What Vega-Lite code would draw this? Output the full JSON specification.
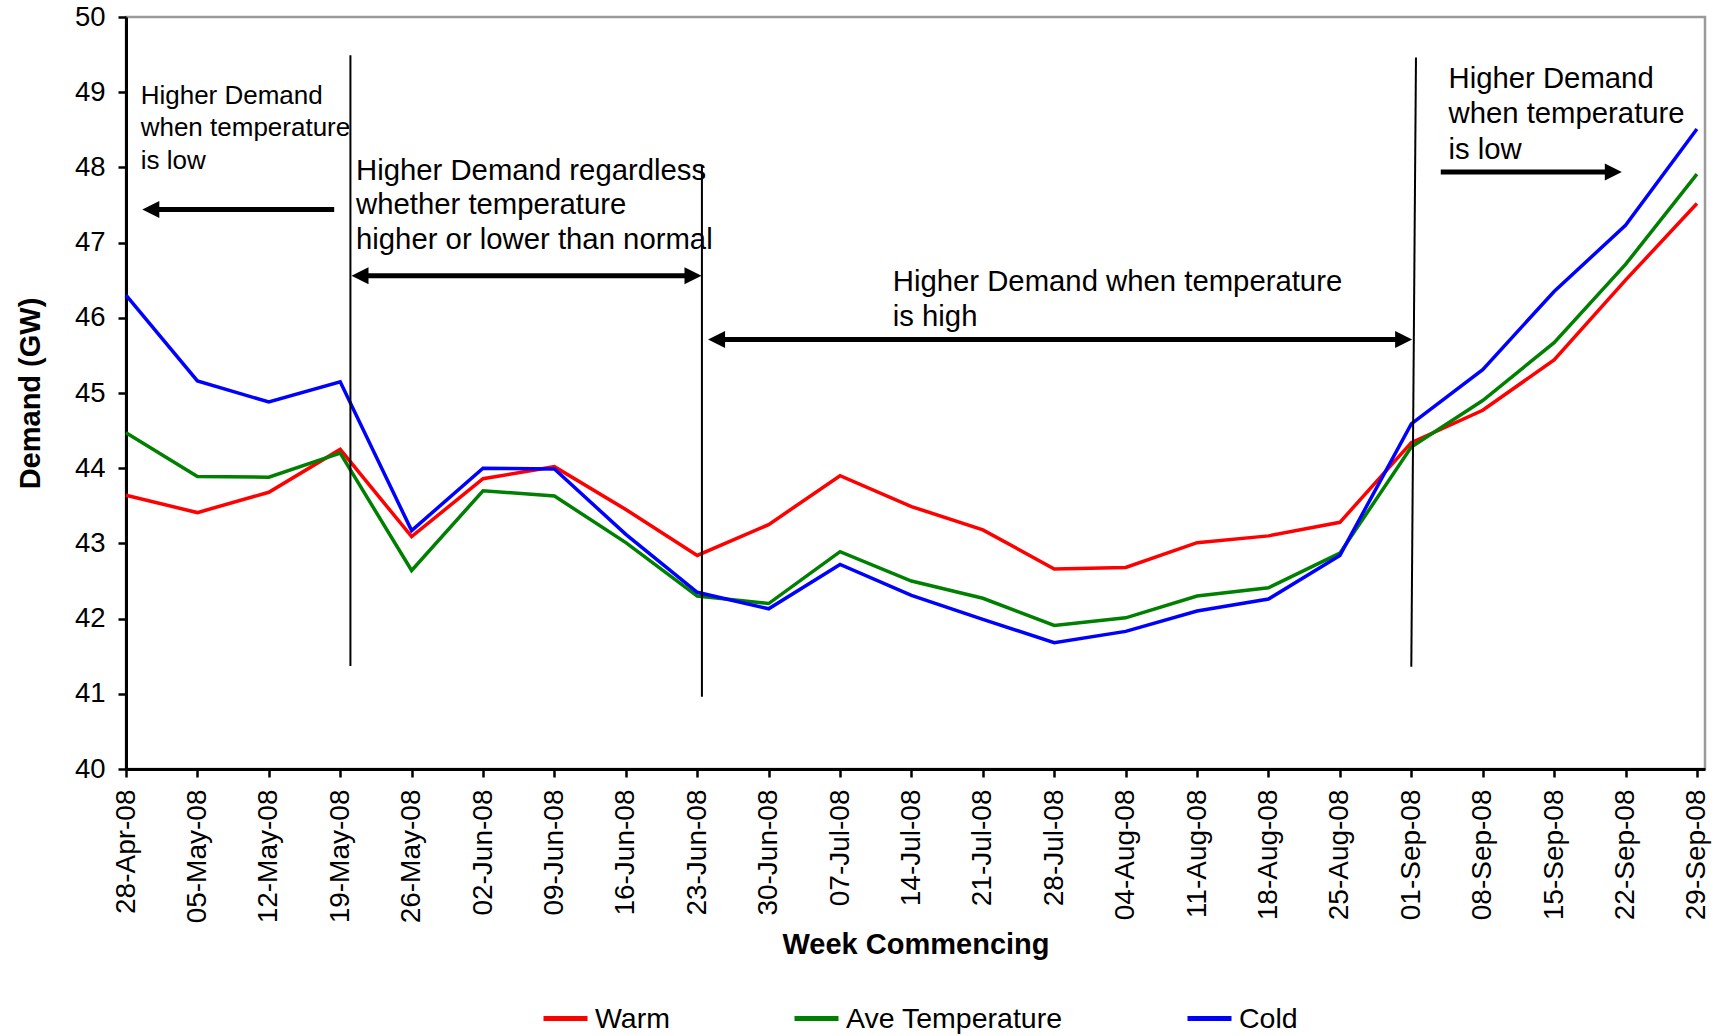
{
  "$schema": "https://vega.github.io/schema/vega-lite/v6.json",
  "width": 1579,
  "height": 752,
  "autosize": {"type": "none"},
  "padding": {"left": 126, "top": 17, "right": 20, "bottom": 267},
  "background": "white",
  "config": {
    "font": "Liberation Sans, Arial, sans-serif",
    "view": {"stroke": "#9a9a9a", "strokeWidth": 2.5}
  },
  "datasets": {
    "demand": [
      {"week": "2008-04-28", "series": "Warm", "demand": 43.64},
      {"week": "2008-05-05", "series": "Warm", "demand": 43.41},
      {"week": "2008-05-12", "series": "Warm", "demand": 43.68},
      {"week": "2008-05-19", "series": "Warm", "demand": 44.25},
      {"week": "2008-05-26", "series": "Warm", "demand": 43.09},
      {"week": "2008-06-02", "series": "Warm", "demand": 43.86},
      {"week": "2008-06-09", "series": "Warm", "demand": 44.02},
      {"week": "2008-06-16", "series": "Warm", "demand": 43.45},
      {"week": "2008-06-23", "series": "Warm", "demand": 42.84},
      {"week": "2008-06-30", "series": "Warm", "demand": 43.25},
      {"week": "2008-07-07", "series": "Warm", "demand": 43.90},
      {"week": "2008-07-14", "series": "Warm", "demand": 43.49},
      {"week": "2008-07-21", "series": "Warm", "demand": 43.18},
      {"week": "2008-07-28", "series": "Warm", "demand": 42.66},
      {"week": "2008-08-04", "series": "Warm", "demand": 42.68},
      {"week": "2008-08-11", "series": "Warm", "demand": 43.01},
      {"week": "2008-08-18", "series": "Warm", "demand": 43.10},
      {"week": "2008-08-25", "series": "Warm", "demand": 43.28},
      {"week": "2008-09-01", "series": "Warm", "demand": 44.34},
      {"week": "2008-09-08", "series": "Warm", "demand": 44.77},
      {"week": "2008-09-15", "series": "Warm", "demand": 45.44},
      {"week": "2008-09-22", "series": "Warm", "demand": 46.50},
      {"week": "2008-09-29", "series": "Warm", "demand": 47.52},
      {"week": "2008-04-28", "series": "Ave Temperature", "demand": 44.47},
      {"week": "2008-05-05", "series": "Ave Temperature", "demand": 43.89},
      {"week": "2008-05-12", "series": "Ave Temperature", "demand": 43.88},
      {"week": "2008-05-19", "series": "Ave Temperature", "demand": 44.20},
      {"week": "2008-05-26", "series": "Ave Temperature", "demand": 42.64},
      {"week": "2008-06-02", "series": "Ave Temperature", "demand": 43.70},
      {"week": "2008-06-09", "series": "Ave Temperature", "demand": 43.63},
      {"week": "2008-06-16", "series": "Ave Temperature", "demand": 43.01},
      {"week": "2008-06-23", "series": "Ave Temperature", "demand": 42.30},
      {"week": "2008-06-30", "series": "Ave Temperature", "demand": 42.20},
      {"week": "2008-07-07", "series": "Ave Temperature", "demand": 42.89},
      {"week": "2008-07-14", "series": "Ave Temperature", "demand": 42.50},
      {"week": "2008-07-21", "series": "Ave Temperature", "demand": 42.27},
      {"week": "2008-07-28", "series": "Ave Temperature", "demand": 41.91},
      {"week": "2008-08-04", "series": "Ave Temperature", "demand": 42.01},
      {"week": "2008-08-11", "series": "Ave Temperature", "demand": 42.30},
      {"week": "2008-08-18", "series": "Ave Temperature", "demand": 42.41},
      {"week": "2008-08-25", "series": "Ave Temperature", "demand": 42.87},
      {"week": "2008-09-01", "series": "Ave Temperature", "demand": 44.28},
      {"week": "2008-09-08", "series": "Ave Temperature", "demand": 44.90},
      {"week": "2008-09-15", "series": "Ave Temperature", "demand": 45.67},
      {"week": "2008-09-22", "series": "Ave Temperature", "demand": 46.71},
      {"week": "2008-09-29", "series": "Ave Temperature", "demand": 47.91},
      {"week": "2008-04-28", "series": "Cold", "demand": 46.30},
      {"week": "2008-05-05", "series": "Cold", "demand": 45.16},
      {"week": "2008-05-12", "series": "Cold", "demand": 44.88},
      {"week": "2008-05-19", "series": "Cold", "demand": 45.15},
      {"week": "2008-05-26", "series": "Cold", "demand": 43.17},
      {"week": "2008-06-02", "series": "Cold", "demand": 44.00},
      {"week": "2008-06-09", "series": "Cold", "demand": 43.99},
      {"week": "2008-06-16", "series": "Cold", "demand": 43.12},
      {"week": "2008-06-23", "series": "Cold", "demand": 42.35},
      {"week": "2008-06-30", "series": "Cold", "demand": 42.13},
      {"week": "2008-07-07", "series": "Cold", "demand": 42.72},
      {"week": "2008-07-14", "series": "Cold", "demand": 42.31},
      {"week": "2008-07-21", "series": "Cold", "demand": 41.99},
      {"week": "2008-07-28", "series": "Cold", "demand": 41.68},
      {"week": "2008-08-04", "series": "Cold", "demand": 41.83},
      {"week": "2008-08-11", "series": "Cold", "demand": 42.10},
      {"week": "2008-08-18", "series": "Cold", "demand": 42.26},
      {"week": "2008-08-25", "series": "Cold", "demand": 42.84},
      {"week": "2008-09-01", "series": "Cold", "demand": 44.59},
      {"week": "2008-09-08", "series": "Cold", "demand": 45.31},
      {"week": "2008-09-15", "series": "Cold", "demand": 46.35},
      {"week": "2008-09-22", "series": "Cold", "demand": 47.23},
      {"week": "2008-09-29", "series": "Cold", "demand": 48.51}
    ],
    "dividers": [
      {"x": "2008-05-20T00:00:00Z", "x2": "2008-05-20T00:00:00Z", "y": 49.49, "y2": 41.37},
      {"x": "2008-06-23T11:00:00Z", "x2": "2008-06-23T11:00:00Z", "y": 48.03, "y2": 40.96},
      {"x": "2008-09-01T11:00:00Z", "x2": "2008-09-01T00:00:00Z", "y": 49.46, "y2": 41.36}
    ],
    "shafts": [
      {"x": "2008-04-30T14:00:00Z", "x2": "2008-05-18T09:50:00Z", "y": 47.44},
      {"x": "2008-05-21T02:30:00Z", "x2": "2008-06-22T10:00:00Z", "y": 46.56},
      {"x": "2008-06-25T01:30:00Z", "x2": "2008-08-31T02:00:00Z", "y": 45.71},
      {"x": "2008-09-03T21:20:00Z", "x2": "2008-09-20T15:00:00Z", "y": 47.94}
    ],
    "heads": [
      {"x": "2008-04-29T14:20:00Z", "y": 47.44, "dir": "left"},
      {"x": "2008-05-20T02:30:00Z", "y": 46.56, "dir": "left"},
      {"x": "2008-06-23T10:00:00Z", "y": 46.56, "dir": "right"},
      {"x": "2008-06-24T01:30:00Z", "y": 45.71, "dir": "left"},
      {"x": "2008-09-01T02:00:00Z", "y": 45.71, "dir": "right"},
      {"x": "2008-09-21T15:20:00Z", "y": 47.94, "dir": "right"}
    ],
    "notes": [
      {"note": 1, "line": "Higher Demand", "x": "2008-04-29T10:30:00Z", "y": 48.844},
      {"note": 1, "line": "when temperature", "x": "2008-04-29T10:30:00Z", "y": 48.419},
      {"note": 1, "line": "is low", "x": "2008-04-29T10:30:00Z", "y": 47.98},
      {"note": 2, "line": "Higher Demand regardless", "x": "2008-05-20T13:10:00Z", "y": 47.833},
      {"note": 2, "line": "whether temperature", "x": "2008-05-20T13:10:00Z", "y": 47.377},
      {"note": 2, "line": "higher or lower than normal", "x": "2008-05-20T13:10:00Z", "y": 46.916},
      {"note": 3, "line": "Higher Demand when temperature", "x": "2008-07-12T04:00:00Z", "y": 46.358},
      {"note": 3, "line": "is high", "x": "2008-07-12T04:00:00Z", "y": 45.893},
      {"note": 4, "line": "Higher Demand", "x": "2008-09-04T15:30:00Z", "y": 49.06},
      {"note": 4, "line": "when temperature", "x": "2008-09-04T15:30:00Z", "y": 48.587},
      {"note": 4, "line": "is low", "x": "2008-09-04T15:30:00Z", "y": 48.113}
    ]
  },
  "layer": [
    {
      "data": {"name": "demand"},
      "mark": {"type": "line", "strokeWidth": 3.5},
      "encoding": {
        "x": {
          "field": "week",
          "type": "temporal",
          "scale": {
            "type": "utc",
            "domain": [
              {"year": 2008, "month": 4, "date": 28, "utc": true},
              {"year": 2008, "month": 9, "date": 29, "hours": 19, "utc": true}
            ]
          },
          "axis": {
            "title": "Week Commencing",
            "values": [
              {"year": 2008, "month": 4, "date": 28, "utc": true},
              {"year": 2008, "month": 5, "date": 5, "utc": true},
              {"year": 2008, "month": 5, "date": 12, "utc": true},
              {"year": 2008, "month": 5, "date": 19, "utc": true},
              {"year": 2008, "month": 5, "date": 26, "utc": true},
              {"year": 2008, "month": 6, "date": 2, "utc": true},
              {"year": 2008, "month": 6, "date": 9, "utc": true},
              {"year": 2008, "month": 6, "date": 16, "utc": true},
              {"year": 2008, "month": 6, "date": 23, "utc": true},
              {"year": 2008, "month": 6, "date": 30, "utc": true},
              {"year": 2008, "month": 7, "date": 7, "utc": true},
              {"year": 2008, "month": 7, "date": 14, "utc": true},
              {"year": 2008, "month": 7, "date": 21, "utc": true},
              {"year": 2008, "month": 7, "date": 28, "utc": true},
              {"year": 2008, "month": 8, "date": 4, "utc": true},
              {"year": 2008, "month": 8, "date": 11, "utc": true},
              {"year": 2008, "month": 8, "date": 18, "utc": true},
              {"year": 2008, "month": 8, "date": 25, "utc": true},
              {"year": 2008, "month": 9, "date": 1, "utc": true},
              {"year": 2008, "month": 9, "date": 8, "utc": true},
              {"year": 2008, "month": 9, "date": 15, "utc": true},
              {"year": 2008, "month": 9, "date": 22, "utc": true},
              {"year": 2008, "month": 9, "date": 29, "utc": true}
            ],
            "labelExpr": "utcFormat(datum.value, '%d-%b-%y')",
            "labelAngle": -90,
            "labelFontSize": 28,
            "labelColor": "#000000",
            "labelPadding": 12,
            "labelOverlap": false,
            "labelFlush": false,
            "labelBound": false,
            "tickSize": 8,
            "tickWidth": 2.5,
            "tickColor": "#000000",
            "domainColor": "#000000",
            "domainWidth": 3,
            "grid": false,
            "titleFontSize": 29,
            "titleFontWeight": "bold",
            "titleColor": "#000000",
            "titlePadding": 8
          }
        },
        "y": {
          "field": "demand",
          "type": "quantitative",
          "scale": {"domain": [40, 50], "nice": false, "zero": false},
          "axis": {
            "title": "Demand (GW)",
            "values": [40, 40.5, 41, 41.5, 42, 42.5, 43, 43.5, 44, 44.5, 45, 45.5, 46, 46.5, 47, 47.5, 48, 48.5, 49, 49.5, 50],
            "labelExpr": "datum.value % 1 ? '' : format(datum.value, 'd')",
            "labelFontSize": 27.5,
            "labelColor": "#000000",
            "labelPadding": 13,
            "labelFlush": false,
            "labelOverlap": false,
            "tickSize": 8,
            "tickWidth": 2.5,
            "tickColor": "#000000",
            "domainColor": "#000000",
            "domainWidth": 3,
            "grid": false,
            "titleFontSize": 29,
            "titleFontWeight": "bold",
            "titleColor": "#000000",
            "titlePadding": 29
          }
        },
        "color": {
          "field": "series",
          "type": "nominal",
          "sort": ["Warm", "Ave Temperature", "Cold"],
          "scale": {"domain": ["Warm", "Ave Temperature", "Cold"], "range": ["#ff0000", "#008000", "#0000ff"]},
          "legend": {
            "title": null,
            "orient": "none",
            "legendX": 415,
            "legendY": 977,
            "direction": "horizontal",
            "padding": 0,
            "symbolType": "stroke",
            "symbolSize": 1936,
            "symbolStrokeWidth": 5,
            "labelFontSize": 28.5,
            "labelColor": "#000000",
            "labelOffset": 5,
            "labelLimit": 400,
            "columnPadding": 114
          }
        }
      }
    },
    {
      "data": {"name": "dividers"},
      "mark": {"type": "rule", "color": "#000000", "strokeWidth": 2},
      "encoding": {
        "x": {"field": "x", "type": "temporal"},
        "x2": {"field": "x2"},
        "y": {"field": "y", "type": "quantitative"},
        "y2": {"field": "y2"}
      }
    },
    {
      "data": {"name": "shafts"},
      "mark": {"type": "rule", "color": "#000000", "strokeWidth": 5},
      "encoding": {
        "x": {"field": "x", "type": "temporal"},
        "x2": {"field": "x2"},
        "y": {"field": "y", "type": "quantitative"}
      }
    },
    {
      "data": {"name": "heads"},
      "mark": {"type": "point", "filled": true, "opacity": 1, "size": 289, "strokeWidth": 0},
      "encoding": {
        "x": {"field": "x", "type": "temporal"},
        "y": {"field": "y", "type": "quantitative"},
        "shape": {
          "field": "dir",
          "type": "nominal",
          "scale": {"domain": ["left", "right"], "range": ["M0,0L2,-1L2,1Z", "M0,0L-2,-1L-2,1Z"]},
          "legend": null
        },
        "color": {"value": "#000000"}
      }
    },
    {
      "data": {"name": "notes"},
      "transform": [{"filter": "datum.note == 1"}],
      "mark": {"type": "text", "align": "left", "baseline": "alphabetic", "fontSize": 26, "color": "#000000"},
      "encoding": {
        "x": {"field": "x", "type": "temporal"},
        "y": {"field": "y", "type": "quantitative"},
        "text": {"field": "line"}
      }
    },
    {
      "data": {"name": "notes"},
      "transform": [{"filter": "datum.note != 1"}],
      "mark": {"type": "text", "align": "left", "baseline": "alphabetic", "fontSize": 29.3, "color": "#000000"},
      "encoding": {
        "x": {"field": "x", "type": "temporal"},
        "y": {"field": "y", "type": "quantitative"},
        "text": {"field": "line"}
      }
    }
  ]
}
